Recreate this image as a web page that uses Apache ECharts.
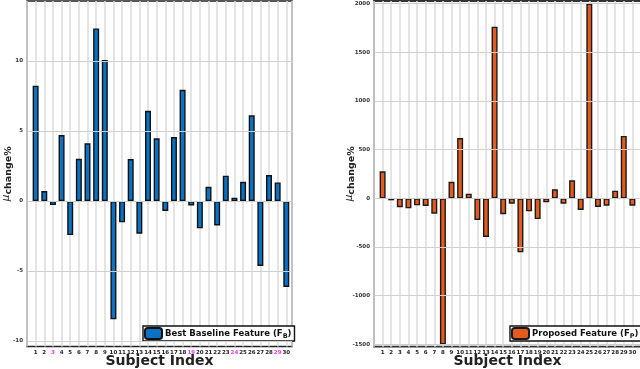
<!DOCTYPE html>
<html>
<head>
<meta charset="utf-8">
<script src="https://cdn.jsdelivr.net/npm/echarts@6/dist/echarts.min.js"></script>
<style>html,body{margin:0;padding:0;background:#fff}#c{width:640px;height:369px}</style>
</head>
<body>
<div id="c"></div>
<script>
const subjects = [1,2,3,4,5,6,7,8,9,10,11,12,13,14,15,16,17,18,19,20,21,22,23,24,25,26,27,28,29,30];
const baselineValues = [8.24,0.71,-0.29,4.71,-2.43,3.02,4.12,12.33,10.07,-8.45,-1.52,3.0,-2.33,6.45,4.48,-0.71,4.57,7.95,-0.31,-1.95,1.02,-1.74,1.81,0.24,1.38,6.12,-4.64,1.86,1.33,-6.14];
const proposedValues = [277,-21,-92,-103,-72,-79,-158,-1500,170,619,47,-223,-397,1762,-164,-55,-555,-134,-213,-41,92,-55,185,-120,2000,-89,-76,78,640,-76];
const leftYTicks = [-10,-5,0,5,10];
const rightYTicks = [-1500,-1000,-500,0,500,1000,1500,2000];
const highlighted = [3,19,24,29];
const baselineName = 'Best Baseline Feature';
const proposedName = 'Proposed Feature';

const chart = echarts.init(document.getElementById('c'), null, {renderer:'canvas'});
const FONT = 'DejaVu Sans';

function xAxisCfg(gridIndex, max, hl) {
  return {
    type:'value', gridIndex, min:0, max, interval:1,
    name:'Subject Index', nameLocation:'middle', nameGap:8, nameMoveOverlap:false,
    nameTextStyle:{fontFamily:FONT, fontWeight:'bold', fontSize:14, color:'#222'},
    axisLine:{show:false}, axisTick:{show:false},
    splitLine:{show:true, lineStyle:{color:'#dedede', width:1.6}},
    axisLabel:{
      margin:3, fontFamily:FONT, fontWeight:'bold', fontSize:5.5, color:'#222', hideOverlap:false,
      formatter: v => (v>=1 && v<=30 && Number.isInteger(v)) ? (hl.includes(v) ? '{m|'+v+'}' : String(v)) : '',
      rich:{m:{color:'#ff33ff', fontFamily:FONT, fontWeight:'bold', fontSize:5.5}}
    }
  };
}
function yAxisCfg(gridIndex, min, max, ticks, gap) {
  return {
    type:'value', gridIndex, min, max,
    name:'{mu|μ}{sub|change%}', nameLocation:'middle', nameGap:gap, nameRotate:90, nameMoveOverlap:false,
    nameTextStyle:{rich:{
      mu:{fontFamily:FONT, fontStyle:'italic', fontSize:10.5, color:'#222'},
      sub:{fontFamily:FONT, fontWeight:'bold', fontSize:9.5, color:'#222', padding:[5,0,0,0]}
    }},
    axisLine:{show:false}, axisTick:{show:false, customValues:ticks},
    splitLine:{show:false},
    axisLabel:{customValues:ticks, margin:4, fontFamily:FONT, fontWeight:'bold', fontSize:5.5, color:'#333',
      hideOverlap:false, formatter: v => String(v)}
  };
}
function gridLineSeries(xi, ticks) {
  return {
    type:'line', xAxisIndex:xi, yAxisIndex:xi, data:[], z:1, silent:true,
    markLine:{silent:true, symbol:'none', animation:false, label:{show:false},
      lineStyle:{color:'#cfcfcf', width:1.2, type:'solid'},
      data: ticks.map(t => ({yAxis:t}))}
  };
}
function legendCfg(name, sub, left, top) {
  return {
    data:[name], left, top, orient:'horizontal',
    itemWidth:17, itemHeight:11, itemGap:2,
    borderColor:'#111', borderWidth:1.4, padding:[1,3,1,1],
    backgroundColor:'#fff',
    selectedMode:false,
    formatter: n => n + ' (F{s|' + sub + '})',
    textStyle:{fontFamily:FONT, fontWeight:'bold', fontSize:8.5, color:'#111', padding:[0,0,0,-2],
      rich:{s:{fontFamily:FONT, fontWeight:'bold', fontSize:6.5, color:'#111', padding:[5,0,0,0]}}}
  };
}

chart.setOption({
  animation:false,
  grid:[
    {left:27, top:1, width:265, height:345.5, outerBoundsMode:'none', containLabel:false, show:true, borderColor:'#222', borderWidth:1.5, backgroundColor:'#fff'},
    {left:374, top:1, width:267, height:345.7, outerBoundsMode:'none', containLabel:false, show:true, borderColor:'#333', borderWidth:1.8, backgroundColor:'#fff'}
  ],
  xAxis:[xAxisCfg(0, 30.66, highlighted), xAxisCfg(1, 31, [])],
  yAxis:[yAxisCfg(0, -10.39, 14.29, leftYTicks, 13), yAxisCfg(1, -1524, 2026, rightYTicks, 17)],
  legend:[legendCfg(baselineName,'B',143,326), legendCfg(proposedName,'P',510,326)],
  series:[
    gridLineSeries(0, leftYTicks),
    gridLineSeries(1, rightYTicks),
    {name:baselineName, type:'bar', xAxisIndex:0, yAxisIndex:0, barWidth:6, z:3,
     data: subjects.map((s,i)=>[s, baselineValues[i]]),
     itemStyle:{color:'#0a72c4', borderColor:'#111', borderWidth:1.4}},
    {name:proposedName, type:'bar', xAxisIndex:1, yAxisIndex:1, barWidth:6, z:3,
     data: subjects.map((s,i)=>[s, proposedValues[i]]),
     itemStyle:{color:'#e55a1e', borderColor:'#1a1a1a', borderWidth:1.4}}
  ]
});
</script>
</body>
</html>
